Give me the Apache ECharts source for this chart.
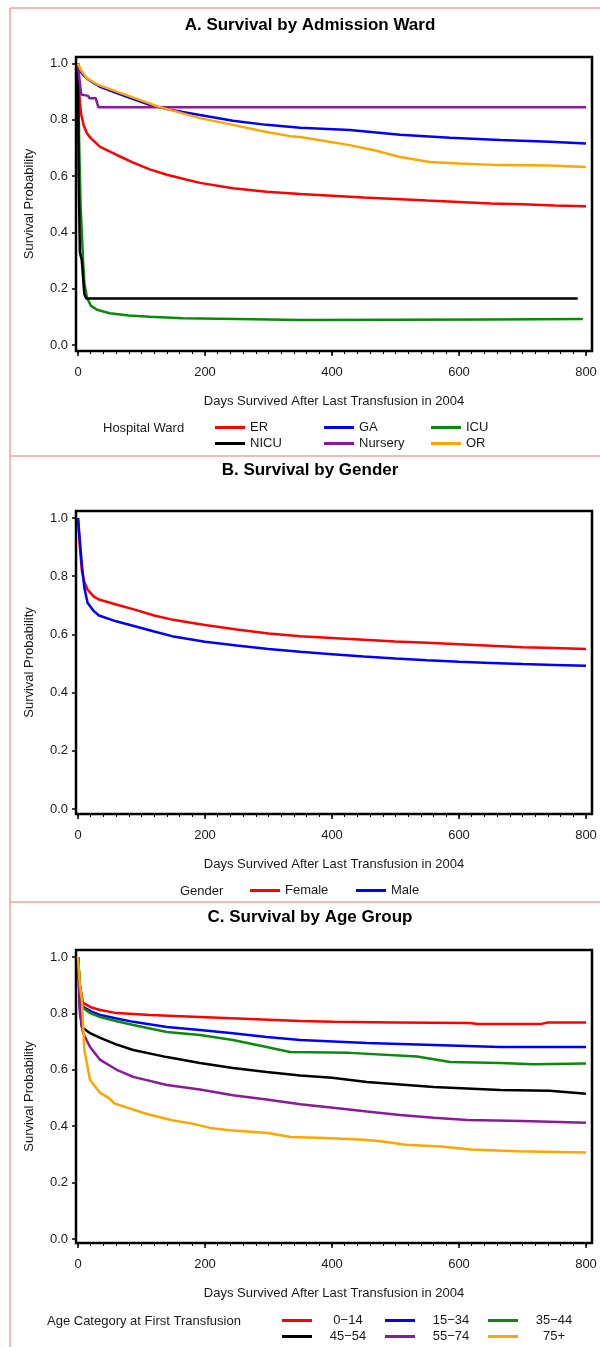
<!DOCTYPE html>
<html>
<head>
    <meta charset="utf-8" />
    <title>Survival curves</title>
    <script src="https://cdn.jsdelivr.net/npm/echarts@6.0.0/dist/echarts.min.js"></script>
    <style>
        html, body { margin: 0; padding: 0; background: #fff; }
        #main { width: 600px; height: 1347px; }
    </style>
</head>
<body>
<div id="main"></div>
<script type="text/javascript">
    // tick labels
    var xTicks = [0, 200, 400, 600, 800];
    var yTicks = [0, 0.2, 0.4, 0.6, 0.8, 1.0];
    var xMinorTicks = [];
    for (var t = 0; t <= 800; t += 20) { xMinorTicks.push(t); }

    // A. admission ward  -  [day, survival]
    var wardNames = ['ER', 'GA', 'ICU', 'NICU', 'Nursery', 'OR'];
    var wardER = [[0,1.0],[1,0.93],[3,0.86],[5,0.82],[9,0.78],[14,0.752],[20,0.735],[35,0.704],[61,0.675],[87,0.648],[113,0.624],[140,0.605],[170,0.588],[192,0.576],[244,0.557],[297,0.544],[350,0.536],[400,0.53],[450,0.524],[500,0.519],[550,0.513],[600,0.508],[650,0.503],[700,0.5],[750,0.496],[800,0.493]];
    var wardGA = [[0,1.0],[3,0.975],[8,0.96],[14,0.947],[25,0.93],[35,0.917],[61,0.895],[87,0.874],[113,0.853],[140,0.838],[192,0.817],[244,0.797],[297,0.782],[350,0.772],[428,0.764],[507,0.747],[586,0.736],[665,0.728],[743,0.722],[800,0.716]];
    var wardICU = [[0,1.0],[1,0.85],[2,0.7],[4,0.5],[6,0.4],[8,0.3],[10,0.22],[14,0.17],[20,0.14],[30,0.125],[50,0.113],[80,0.105],[113,0.1],[165,0.095],[250,0.092],[350,0.089],[500,0.09],[650,0.091],[795,0.092]];
    var wardNICU = [[0,1.0],[1,0.6],[3,0.33],[6,0.3],[10,0.18],[13,0.165],[787,0.165]];
    var wardNursery = [[0,1.0],[2,0.95],[5,0.89],[16,0.885],[18,0.877],[28,0.877],[32,0.845],[800,0.845]];
    var wardOR = [[0,1.0],[5,0.975],[14,0.948],[29,0.927],[61,0.9],[98,0.87],[129,0.845],[192,0.806],[244,0.782],[297,0.757],[334,0.742],[350,0.739],[428,0.71],[470,0.69],[507,0.668],[554,0.65],[600,0.645],[665,0.639],[743,0.638],[800,0.632]];

    // B. gender
    var genderNames = ['Female', 'Male'];
    var genderFemale = [[0,1.0],[3,0.9],[6,0.82],[10,0.78],[15,0.754],[25,0.73],[33,0.72],[60,0.703],[88,0.686],[120,0.665],[150,0.65],[178,0.64],[200,0.632],[250,0.617],[300,0.603],[350,0.594],[400,0.588],[450,0.582],[500,0.576],[550,0.571],[600,0.566],[650,0.561],[700,0.556],[750,0.553],[800,0.55]];
    var genderMale = [[0,1.0],[3,0.92],[6,0.84],[10,0.76],[15,0.709],[25,0.68],[33,0.665],[60,0.645],[88,0.629],[120,0.61],[148,0.594],[200,0.575],[250,0.562],[300,0.55],[350,0.54],[400,0.532],[450,0.524],[500,0.517],[550,0.511],[600,0.506],[650,0.502],[700,0.498],[750,0.495],[800,0.492]];

    // C. age group
    var ageNames = ['0\u221214', '15\u221234', '35\u221244', '45\u221254', '55\u221274', '75+'];
    var age0to14 = [[0,1.0],[3,0.9],[8,0.837],[20,0.822],[35,0.812],[61,0.801],[113,0.794],[192,0.787],[271,0.78],[350,0.773],[402,0.77],[500,0.768],[617,0.766],[630,0.762],[728,0.762],[740,0.768],[800,0.768]];
    var age15to34 = [[0,1.0],[3,0.88],[8,0.823],[20,0.808],[35,0.794],[61,0.782],[87,0.77],[140,0.752],[192,0.741],[244,0.73],[297,0.716],[350,0.706],[455,0.695],[560,0.688],[665,0.681],[800,0.681]];
    var age35to44 = [[0,1.0],[3,0.9],[8,0.819],[20,0.8],[35,0.787],[61,0.772],[87,0.759],[140,0.734],[192,0.723],[244,0.706],[297,0.681],[334,0.663],[428,0.66],[534,0.647],[586,0.628],[665,0.624],[717,0.62],[800,0.622]];
    var age45to54 = [[0,1.0],[3,0.82],[6,0.752],[19,0.73],[35,0.713],[60,0.69],[87,0.67],[140,0.645],[192,0.624],[244,0.606],[297,0.592],[350,0.58],[400,0.572],[455,0.557],[560,0.539],[665,0.528],[743,0.526],[800,0.515]];
    var age55to74 = [[0,1.0],[3,0.8],[8,0.73],[19,0.681],[35,0.635],[61,0.6],[87,0.575],[140,0.546],[192,0.53],[244,0.51],[297,0.495],[350,0.478],[402,0.465],[455,0.452],[507,0.44],[560,0.43],[613,0.422],[700,0.418],[800,0.412]];
    var age75plus = [[0,1.0],[3,0.9],[6,0.848],[10,0.67],[19,0.564],[35,0.518],[50,0.498],[57,0.481],[106,0.445],[148,0.421],[178,0.41],[208,0.394],[239,0.386],[299,0.376],[335,0.362],[390,0.358],[450,0.352],[480,0.346],[516,0.334],[571,0.328],[619,0.317],[691,0.311],[800,0.307]];

    var FONT = '"Liberation Sans", Arial, sans-serif';
    var TEXT = '#1a1a1a';
    var lineColors = ['#ff0000', '#0000ff', '#0a8a0a', '#000000', '#8b1a9b', '#ffa500'];

    // layout of the three panels; grid = the framed box, axis ranges padded a little past 0..800 / 0..1
    var panels = [
        { title: 'A. Survival by Admission Ward', titleY: 25, grid: { left: 76, top: 57, width: 516, height: 294 },
          yRange: [-0.0213, 1.0231], group: 'Hospital Ward', groupX: 103, groupY: 428,
          names: wardNames, data: [wardER, wardGA, wardICU, wardNICU, wardNursery, wardOR], colors: lineColors,
          legLeft: [215, 324, 431, 215, 324, 431], legTop: [421, 421, 421, 437, 437, 437], centered: false },
        { title: 'B. Survival by Gender', titleY: 470, grid: { left: 76, top: 511, width: 516, height: 303 },
          yRange: [-0.0172, 1.0241], group: 'Gender', groupX: 180, groupY: 891,
          names: genderNames, data: [genderFemale, genderMale], colors: ['#ff0000', '#0000ff'],
          legLeft: [250, 356], legTop: [884, 884], centered: false },
        { title: 'C. Survival by Age Group', titleY: 917, grid: { left: 76, top: 950, width: 516, height: 293 },
          yRange: [-0.0142, 1.0248], group: 'Age Category at First Transfusion', groupX: 47, groupY: 1321,
          names: ageNames, data: [age0to14, age15to34, age35to44, age45to54, age55to74, age75plus], colors: lineColors,
          legLeft: [282, 385, 488, 282, 385, 488], legTop: [1314, 1314, 1314, 1330, 1330, 1330], centered: true }
    ];

    var grids = [], xAxes = [], yAxes = [], series = [], legends = [];
    var graphics = [
        // pink frame lines
        { type: 'line', shape: { x1: 10, y1: 8, x2: 10, y2: 1347 }, style: { stroke: '#f7a0a0', lineWidth: 1.5 } },
        { type: 'line', shape: { x1: 10, y1: 8, x2: 600, y2: 8 }, style: { stroke: '#f7a0a0', lineWidth: 1.5 } },
        { type: 'line', shape: { x1: 10, y1: 456, x2: 600, y2: 456 }, style: { stroke: '#f7a0a0', lineWidth: 1.5 } },
        { type: 'line', shape: { x1: 10, y1: 902, x2: 600, y2: 902 }, style: { stroke: '#f7a0a0', lineWidth: 1.5 } }
    ];

    panels.forEach(function (p, i) {
        var g = p.grid;
        grids.push({ left: g.left, top: g.top, width: g.width, height: g.height, show: true,
            borderColor: '#000', borderWidth: 2.5, backgroundColor: 'transparent' });
        // main x axis: labels + major ticks
        xAxes.push({
            gridIndex: i, type: 'value', position: 'bottom', min: -3.15, max: 809.45,
            name: 'Days Survived After Last Transfusion in 2004', nameLocation: 'middle', nameGap: 44,
            nameTextStyle: { fontSize: 13, fontFamily: FONT, color: TEXT },
            axisLine: { show: false, onZero: false },
            axisTick: { show: true, inside: false, length: 5, customValues: xTicks, lineStyle: { color: '#000', width: 1.5 } },
            axisLabel: { margin: 15, fontSize: 13, fontFamily: FONT, color: TEXT, customValues: xTicks },
            splitLine: { show: false }
        });
        yAxes.push({
            gridIndex: i, type: 'value', position: 'left', min: p.yRange[0], max: p.yRange[1],
            name: 'Survival Probability', nameLocation: 'middle', nameGap: 40, nameRotate: 90,
            nameTextStyle: { fontSize: 13, fontFamily: FONT, color: TEXT },
            axisLine: { show: false, onZero: false },
            axisTick: { show: true, inside: false, length: 4, customValues: yTicks, lineStyle: { color: '#000', width: 1.5 } },
            axisLabel: { margin: 8, fontSize: 13, fontFamily: FONT, color: TEXT, customValues: yTicks,
                formatter: function (v) { return v.toFixed(1); } },
            splitLine: { show: false }
        });
        p.names.forEach(function (name, k) {
            series.push({
                type: 'line', name: name, xAxisIndex: i, yAxisIndex: i, data: p.data[k],
                symbol: 'none', clip: false, color: p.colors[k],
                lineStyle: { width: 2.5, color: p.colors[k] }
            });
            var leg = {
                data: [name], left: p.legLeft[k], top: p.legTop[k], padding: 0,
                icon: 'rect', itemWidth: 30, itemHeight: 3, selectedMode: false,
                textStyle: { fontSize: 13, fontFamily: FONT, color: TEXT }
            };
            if (p.centered) {
                leg.formatter = '{c|{name}}';
                leg.textStyle.rich = { c: { width: 62, align: 'center', fontSize: 13, fontFamily: FONT, color: TEXT } };
            }
            legends.push(leg);
        });
        graphics.push({
            type: 'text', x: 310, y: p.titleY, z: 20,
            style: { text: p.title, align: 'center', verticalAlign: 'middle', fill: '#000',
                fontSize: 17, fontWeight: 'bold', fontFamily: FONT }
        });
        graphics.push({
            type: 'text', x: p.groupX, y: p.groupY, z: 20,
            style: { text: p.group, align: 'left', verticalAlign: 'middle', fill: TEXT, fontSize: 13, fontFamily: FONT }
        });
    });

    // second x axis per grid, only for the small 20-day ticks
    panels.forEach(function (p, i) {
        xAxes.push({
            gridIndex: i, type: 'value', position: 'bottom', min: -3.15, max: 809.45,
            axisLine: { show: false, onZero: false },
            axisTick: { show: true, inside: false, length: 3, customValues: xMinorTicks, lineStyle: { color: '#000', width: 1 } },
            axisLabel: { show: false },
            splitLine: { show: false }
        });
    });

    var myChart = echarts.init(document.getElementById('main'));
    myChart.setOption({
        animation: false,
        grid: grids,
        xAxis: xAxes,
        yAxis: yAxes,
        legend: legends,
        series: series
    });
    myChart.setOption({ graphic: graphics });
</script>
</body>
</html>
